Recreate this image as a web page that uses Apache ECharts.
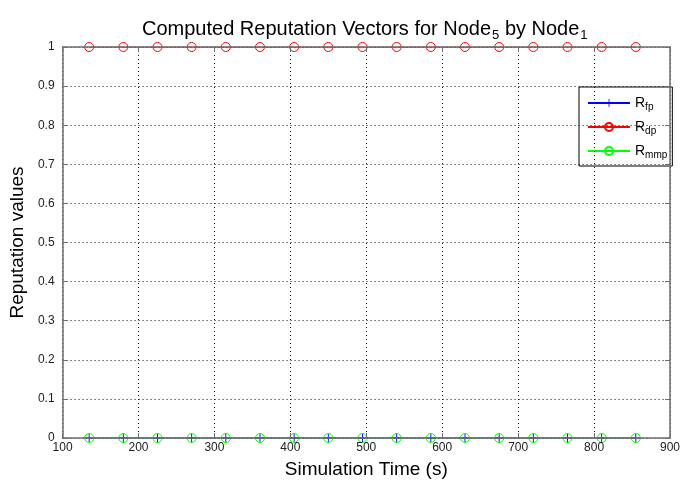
<!DOCTYPE html>
<html>
<head>
<meta charset="utf-8">
<script src="https://cdn.jsdelivr.net/npm/echarts@6/dist/echarts.min.js"></script>
<style>
html,body{margin:0;padding:0;background:#fff;}
#chart{width:683px;height:484px;}
</style>
</head>
<body>
<div id="chart"></div>
<script>
var timeValues = [135, 180, 225, 270, 315, 360, 405, 450, 495, 540, 585, 630, 675, 720, 765, 810, 855];
var rfpValues  = [0, 0, 0, 0, 0, 0, 0, 0, 0, 0, 0, 0, 0, 0, 0, 0, 0];
var rdpValues  = [1, 1, 1, 1, 1, 1, 1, 1, 1, 1, 1, 1, 1, 1, 1, 1, 1];
var rmmpValues = [0, 0, 0, 0, 0, 0, 0, 0, 0, 0, 0, 0, 0, 0, 0, 0, 0];
var seriesNames = ['Rfp', 'Rdp', 'Rmmp'];
var legendSubs = {Rfp: 'fp', Rdp: 'dp', Rmmp: 'mmp'};
var xTicks = [100, 200, 300, 400, 500, 600, 700, 800, 900];
var yTicks = [0, 0.1, 0.2, 0.3, 0.4, 0.5, 0.6, 0.7, 0.8, 0.9, 1];

var FONT = "'Liberation Sans', Arial, Helvetica, sans-serif";

function pairs(xs, ys) {
  return xs.map(function (x, i) { return [x, ys[i]]; });
}

var plusPath = 'path://M-0.5,-5 L0.5,-5 L0.5,5 L-0.5,5 Z M-5,-0.5 L5,-0.5 L5,0.5 L-5,0.5 Z';

var chart = echarts.init(document.getElementById('chart'), null, {renderer: 'canvas'});

var option = {
  backgroundColor: '#ffffff',
  animation: false,
  textStyle: {fontFamily: FONT},
  title: {
    text: 'Computed Reputation Vectors for Node{sub|5} by Node{sub|1}',
    left: 137,
    top: 11,
    textStyle: {
      fontFamily: FONT,
      fontSize: 20,
      fontWeight: 'normal',
      color: '#000',
      rich: {
        sub: {fontFamily: FONT, fontSize: 13, color: '#000', padding: [13, 0, 0, 1]}
      }
    }
  },
  grid: {left: 61, right: 11, top: 47, bottom: 41, containLabel: false},
  legend: {
    data: seriesNames,
    orient: 'vertical',
    left: 579,
    top: 87,
    padding: [9, 5, 6, 8],
    itemGap: 8,
    itemWidth: 42,
    itemHeight: 10,
    borderColor: '#000',
    borderWidth: 1,
    borderRadius: 0,
    backgroundColor: '#fff',
    formatter: function (name) { return 'R{sub|' + legendSubs[name] + '}'; },
    textStyle: {
      fontFamily: FONT, fontSize: 14, color: '#000',
      rich: {sub: {fontFamily: FONT, fontSize: 10, color: '#000', padding: [8, 0, 0, 0]}}
    }
  },
  xAxis: [{
    type: 'value',
    min: 100, max: 900, interval: 100,
    position: 'bottom',
    z: 5,
    name: 'Simulation Time (s)',
    nameLocation: 'middle',
    nameGap: 22,
    nameTextStyle: {fontFamily: FONT, fontSize: 19, color: '#000'},
    axisLine: {show: true, onZero: false, lineStyle: {color: '#6e6e6e', width: 1.5}},
    axisTick: {show: true, inside: true, length: 5, lineStyle: {color: '#6e6e6e', width: 1}},
    axisLabel: {show: true, margin: 4, fontFamily: FONT, fontSize: 12, color: '#222',
      formatter: function (v) { return xTicks.indexOf(v) >= 0 ? String(v) : ''; }},
    splitLine: {show: true, lineStyle: {color: '#111', width: 1, type: [1, 3]}}
  }, {
    type: 'value',
    min: 100, max: 900, interval: 100,
    position: 'top',
    z: 5,
    axisLine: {show: true, onZero: false, lineStyle: {color: '#6e6e6e', width: 1.5}},
    axisTick: {show: true, inside: true, length: 5, lineStyle: {color: '#6e6e6e', width: 1}},
    axisLabel: {show: false},
    splitLine: {show: false}
  }],
  yAxis: [{
    type: 'value',
    min: 0, max: 1, interval: 0.1,
    position: 'left',
    z: 5,
    name: 'Reputation values',
    nameLocation: 'middle',
    nameGap: 33,
    nameTextStyle: {fontFamily: FONT, fontSize: 19, color: '#000'},
    axisLine: {show: true, onZero: false, lineStyle: {color: '#6e6e6e', width: 1.5}},
    axisTick: {show: true, inside: true, length: 5, lineStyle: {color: '#6e6e6e', width: 1}},
    axisLabel: {show: true, margin: 8, fontFamily: FONT, fontSize: 12, color: '#222',
      formatter: function (v) {
        var r = Math.round(v * 10) / 10;
        return yTicks.indexOf(r) >= 0 ? String(r) : '';
      }},
    splitLine: {show: true, lineStyle: {color: '#111', width: 1, type: [1, 3]}}
  }, {
    type: 'value',
    min: 0, max: 1, interval: 0.1,
    position: 'right',
    z: 5,
    axisLine: {show: true, onZero: false, lineStyle: {color: '#6e6e6e', width: 1.5}},
    axisTick: {show: true, inside: true, length: 5, lineStyle: {color: '#6e6e6e', width: 1}},
    axisLabel: {show: false},
    splitLine: {show: false}
  }],
  series: [{
    name: 'Rfp',
    type: 'line',
    z: 3,
    data: pairs(timeValues, rfpValues),
    symbol: plusPath,
    symbolSize: 9,
    showAllSymbol: true,
    color: '#0000ff',
    lineStyle: {color: '#0000ff', width: 1},
    itemStyle: {color: '#0000ff', borderWidth: 0}
  }, {
    name: 'Rdp',
    type: 'line',
    z: 3,
    data: pairs(timeValues, rdpValues),
    symbol: 'circle',
    symbolSize: 9,
    showAllSymbol: true,
    color: '#ff0000',
    lineStyle: {color: '#ff0000', width: 1},
    itemStyle: {color: 'rgba(255,255,255,0)', borderColor: '#ff0000', borderWidth: 1}
  }, {
    name: 'Rmmp',
    type: 'line',
    z: 3,
    data: pairs(timeValues, rmmpValues),
    symbol: 'circle',
    symbolSize: 9,
    showAllSymbol: true,
    color: '#00ff00',
    lineStyle: {color: '#00ff00', width: 1},
    itemStyle: {color: 'rgba(255,255,255,0)', borderColor: '#00ff00', borderWidth: 1}
  }]
};

chart.setOption(option);
</script>
</body>
</html>
